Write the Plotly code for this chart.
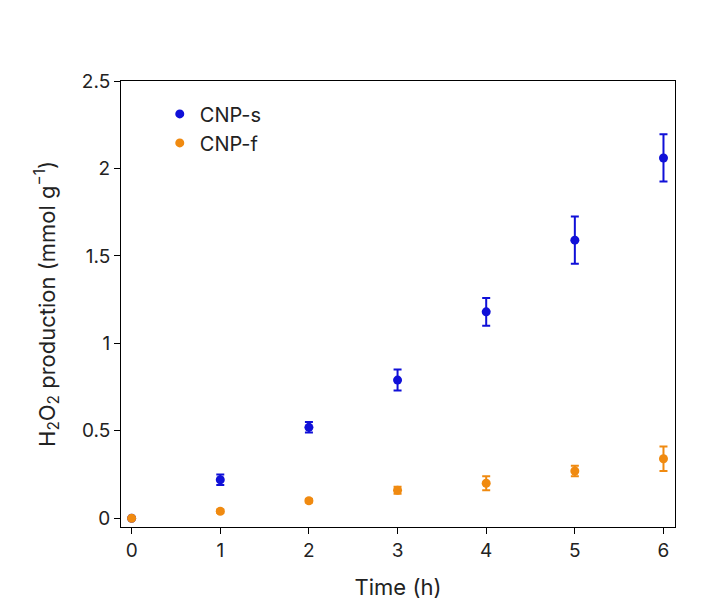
import plotly.graph_objs as go

time_h = [0, 1, 2, 3, 4, 5, 6]
cnp_s = [0, 0.22, 0.52, 0.79, 1.18, 1.59, 2.06]
cnp_s_err = [0, 0.03, 0.03, 0.06, 0.08, 0.135, 0.135]
cnp_f = [0, 0.04, 0.10, 0.16, 0.20, 0.27, 0.34]
cnp_f_err = [0, 0.01, 0.01, 0.02, 0.04, 0.03, 0.07]

fig = go.Figure()
fig.add_trace(go.Scatter(
    x=time_h, y=cnp_s, name="CNP-s", mode="markers",
    marker=dict(color="#1010d8", size=9),
    error_y=dict(array=cnp_s_err, color="#1010d8", thickness=2, width=4)
))
fig.add_trace(go.Scatter(
    x=time_h, y=cnp_f, name="CNP-f", mode="markers",
    marker=dict(color="#f08a10", size=9),
    error_y=dict(array=cnp_f_err, color="#f08a10", thickness=2, width=4)
))

axis_common = dict(showline=True, mirror=True, linecolor="black", linewidth=1,
                   ticks="outside", ticklen=6, tickcolor="black", showgrid=False,
                   zeroline=False, automargin=False,
                   tickfont=dict(size=19, color="#222"))
fig.update_layout(
    width=728, height=607,
    plot_bgcolor="white", paper_bgcolor="white",
    font=dict(family="Inter, Roboto, sans-serif", color="#222"),
    margin=dict(l=113, r=61, t=73, b=88),
    xaxis=dict(range=[-0.12, 6.13], tickvals=time_h,
               title=dict(text="Time (h)", font=dict(size=22), standoff=18), **axis_common),
    yaxis=dict(range=[-0.05, 2.5], tickvals=[0, 0.5, 1, 1.5, 2, 2.5],
               ticktext=["0", "0.5", "1", "1.5", "2", "2.5"],
               title=dict(text="H<sub>2</sub>O<sub>2</sub> production (mmol g<sup>−1</sup>)",
                          font=dict(size=22), standoff=20), **axis_common),
    legend=dict(x=0.07, y=0.97, xanchor="left", yanchor="top",
                font=dict(size=20), bgcolor="rgba(0,0,0,0)"),
)

fig.write_html("out.html")
